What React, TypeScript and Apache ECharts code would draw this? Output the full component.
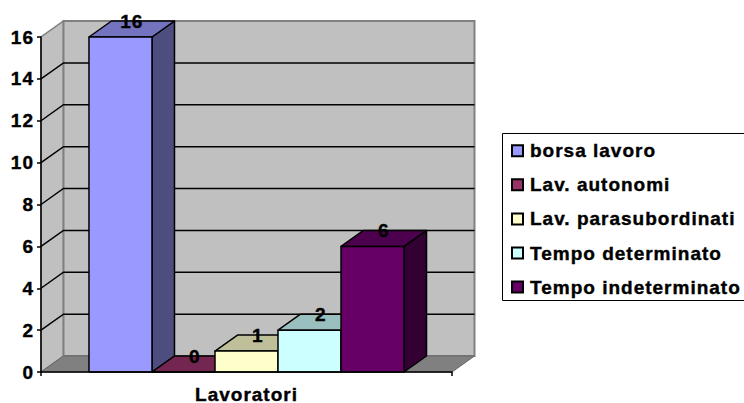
import React, { useEffect, useRef } from "react";
import * as echarts from "echarts";

const categories = ["Lavoratori"];
const seriesNames = ["borsa lavoro", "Lav. autonomi", "Lav. parasubordinati", "Tempo determinato", "Tempo indeterminato"];
const seriesValues = [16, 0, 1, 2, 6];
const frontColors = ["#9999FF", "#993366", "#FFFFCC", "#CCFFFF", "#660066"];
const topColors = ["#7373BF", "#732650", "#BFBF99", "#99BFBF", "#4D004D"];
const sideColors = ["#4D4D80", "#4D1A33", "#808066", "#668080", "#330033"];
const yTicks = [0, 2, 4, 6, 8, 10, 12, 14, 16];

const DX = 22.5;
const DY = -16;
const BAR_SHARE = 0.1533;
const FONT = "'Liberation Sans', Arial, sans-serif";
const heavy = { fontFamily: FONT, fontWeight: "bold", fontSize: 19, color: "#000", textBorderColor: "#000", textBorderWidth: 0.4 };

function renderWalls(_: any, api: any) {
  const [cx, y0] = api.coord([0, 0]);
  const [, y16] = api.coord([0, 16]);
  const w = api.size([1, 0])[0];
  const x0 = cx - w / 2;
  const x1 = cx + w / 2;
  const children: any[] = [
    { type: "polygon", shape: { points: [[x0, y0], [x0 + DX, y0 + DY], [x0 + DX, y16 + DY], [x0, y16]] }, style: { fill: "#C0C0C0", stroke: "#808080", lineWidth: 1.5 } },
    { type: "rect", shape: { x: x0 + DX, y: y16 + DY, width: w, height: y0 - y16 }, style: { fill: "#C0C0C0", stroke: "#808080", lineWidth: 2 } },
    { type: "polygon", shape: { points: [[x0, y0], [x0 + DX, y0 + DY], [x1 + DX, y0 + DY], [x1, y0]] }, style: { fill: "#808080", stroke: "#666666", lineWidth: 1 } },
  ];
  yTicks.slice(1).forEach((t) => {
    const y = api.coord([0, t])[1];
    if (t < 16) {
      children.push({ type: "polyline", shape: { points: [[x0, y], [x0 + DX, y + DY], [x1 + DX, y + DY]] }, style: { fill: "none", stroke: "#000", lineWidth: 1.5 } });
    }
  });
  return { type: "group", children };
}

function renderBar(i: number) {
  return (_: any, api: any) => {
    const [cx, yBase] = api.coord([0, 0]);
    const yTop = api.coord([0, api.value(1)])[1];
    const w = api.size([1, 0])[0];
    const bw = w * BAR_SHARE;
    const l = cx + (i - seriesValues.length / 2) * bw;
    const r = l + bw;
    const stroke = { stroke: "#000", lineWidth: 1.5, lineJoin: "round" };
    return {
      type: "group",
      children: [
        { type: "polygon", shape: { points: [[r, yBase], [r + DX, yBase + DY], [r + DX, yTop + DY], [r, yTop]] }, style: { fill: sideColors[i], ...stroke } },
        { type: "polygon", shape: { points: [[l, yTop], [l + DX, yTop + DY], [r + DX, yTop + DY], [r, yTop]] }, style: { fill: topColors[i], ...stroke } },
        { type: "rect", shape: { x: l, y: yTop, width: bw, height: yBase - yTop }, style: { fill: frontColors[i], ...stroke } },
        { type: "text", style: { x: (l + r) / 2 + DX / 2, y: yTop + DY, text: String(api.value(1)), fill: "#000", stroke: "#000", lineWidth: 0.4, font: `bold 19px ${FONT}`, align: "center", verticalAlign: "middle" } },
      ],
    };
  };
}

export default function App() {
  const ref = useRef<HTMLDivElement>(null);
  useEffect(() => {
    const chart = echarts.init(ref.current!, undefined, { renderer: "svg" });
    chart.setOption({
      animation: false,
      backgroundColor: "#fff",
      grid: { left: 41, top: 37, width: 411, height: 335, outerBoundsMode: "none" },
      graphic: [
        { type: "rect", left: 502, top: 133, shape: { width: 260, height: 167 }, style: { fill: "#fff", stroke: "#000", lineWidth: 1 }, z: 0 },
      ],
      legend: {
        left: 502,
        top: 133,
        orient: "vertical",
        data: seriesNames,
        padding: [8, 0, 4, 9],
        itemGap: 14.7,
        itemWidth: 11,
        itemHeight: 11,
        icon: "rect",
        selectedMode: false,
        z: 5,
        textStyle: { ...heavy, padding: [0, 0, 0, 2] },
      },
      xAxis: {
        type: "category",
        data: categories,
        axisLine: { lineStyle: { color: "#000", width: 1.5 } },
        axisTick: { show: true, length: 4, lineStyle: { color: "#000", width: 1.5 } },
        axisLabel: { ...heavy, margin: 13 },
        z: 20,
      },
      yAxis: {
        type: "value",
        min: 0,
        max: 16,
        interval: 2,
        splitLine: { show: false },
        axisLine: { show: true, lineStyle: { color: "#000", width: 1.5 } },
        axisTick: { show: true, length: 4, lineStyle: { color: "#000", width: 1.5 } },
        axisLabel: { ...heavy, margin: 7 },
        z: 20,
      },
      series: [
        { type: "custom", name: "walls", renderItem: renderWalls, data: [[0, 0]], silent: true, z: 1 },
        ...seriesNames.map((name, i) => ({
          type: "custom",
          name,
          z: 2,
          renderItem: renderBar(i),
          encode: { x: 0, y: 1 },
          itemStyle: { color: frontColors[i], borderColor: "#000", borderWidth: 1.5 },
          data: [[0, seriesValues[i]]],
        })),
      ],
    });
    return () => chart.dispose();
  }, []);
  return <div ref={ref} style={{ position: "absolute", left: 0, top: 0, width: 744, height: 403, letterSpacing: "1px" }} />;
}
